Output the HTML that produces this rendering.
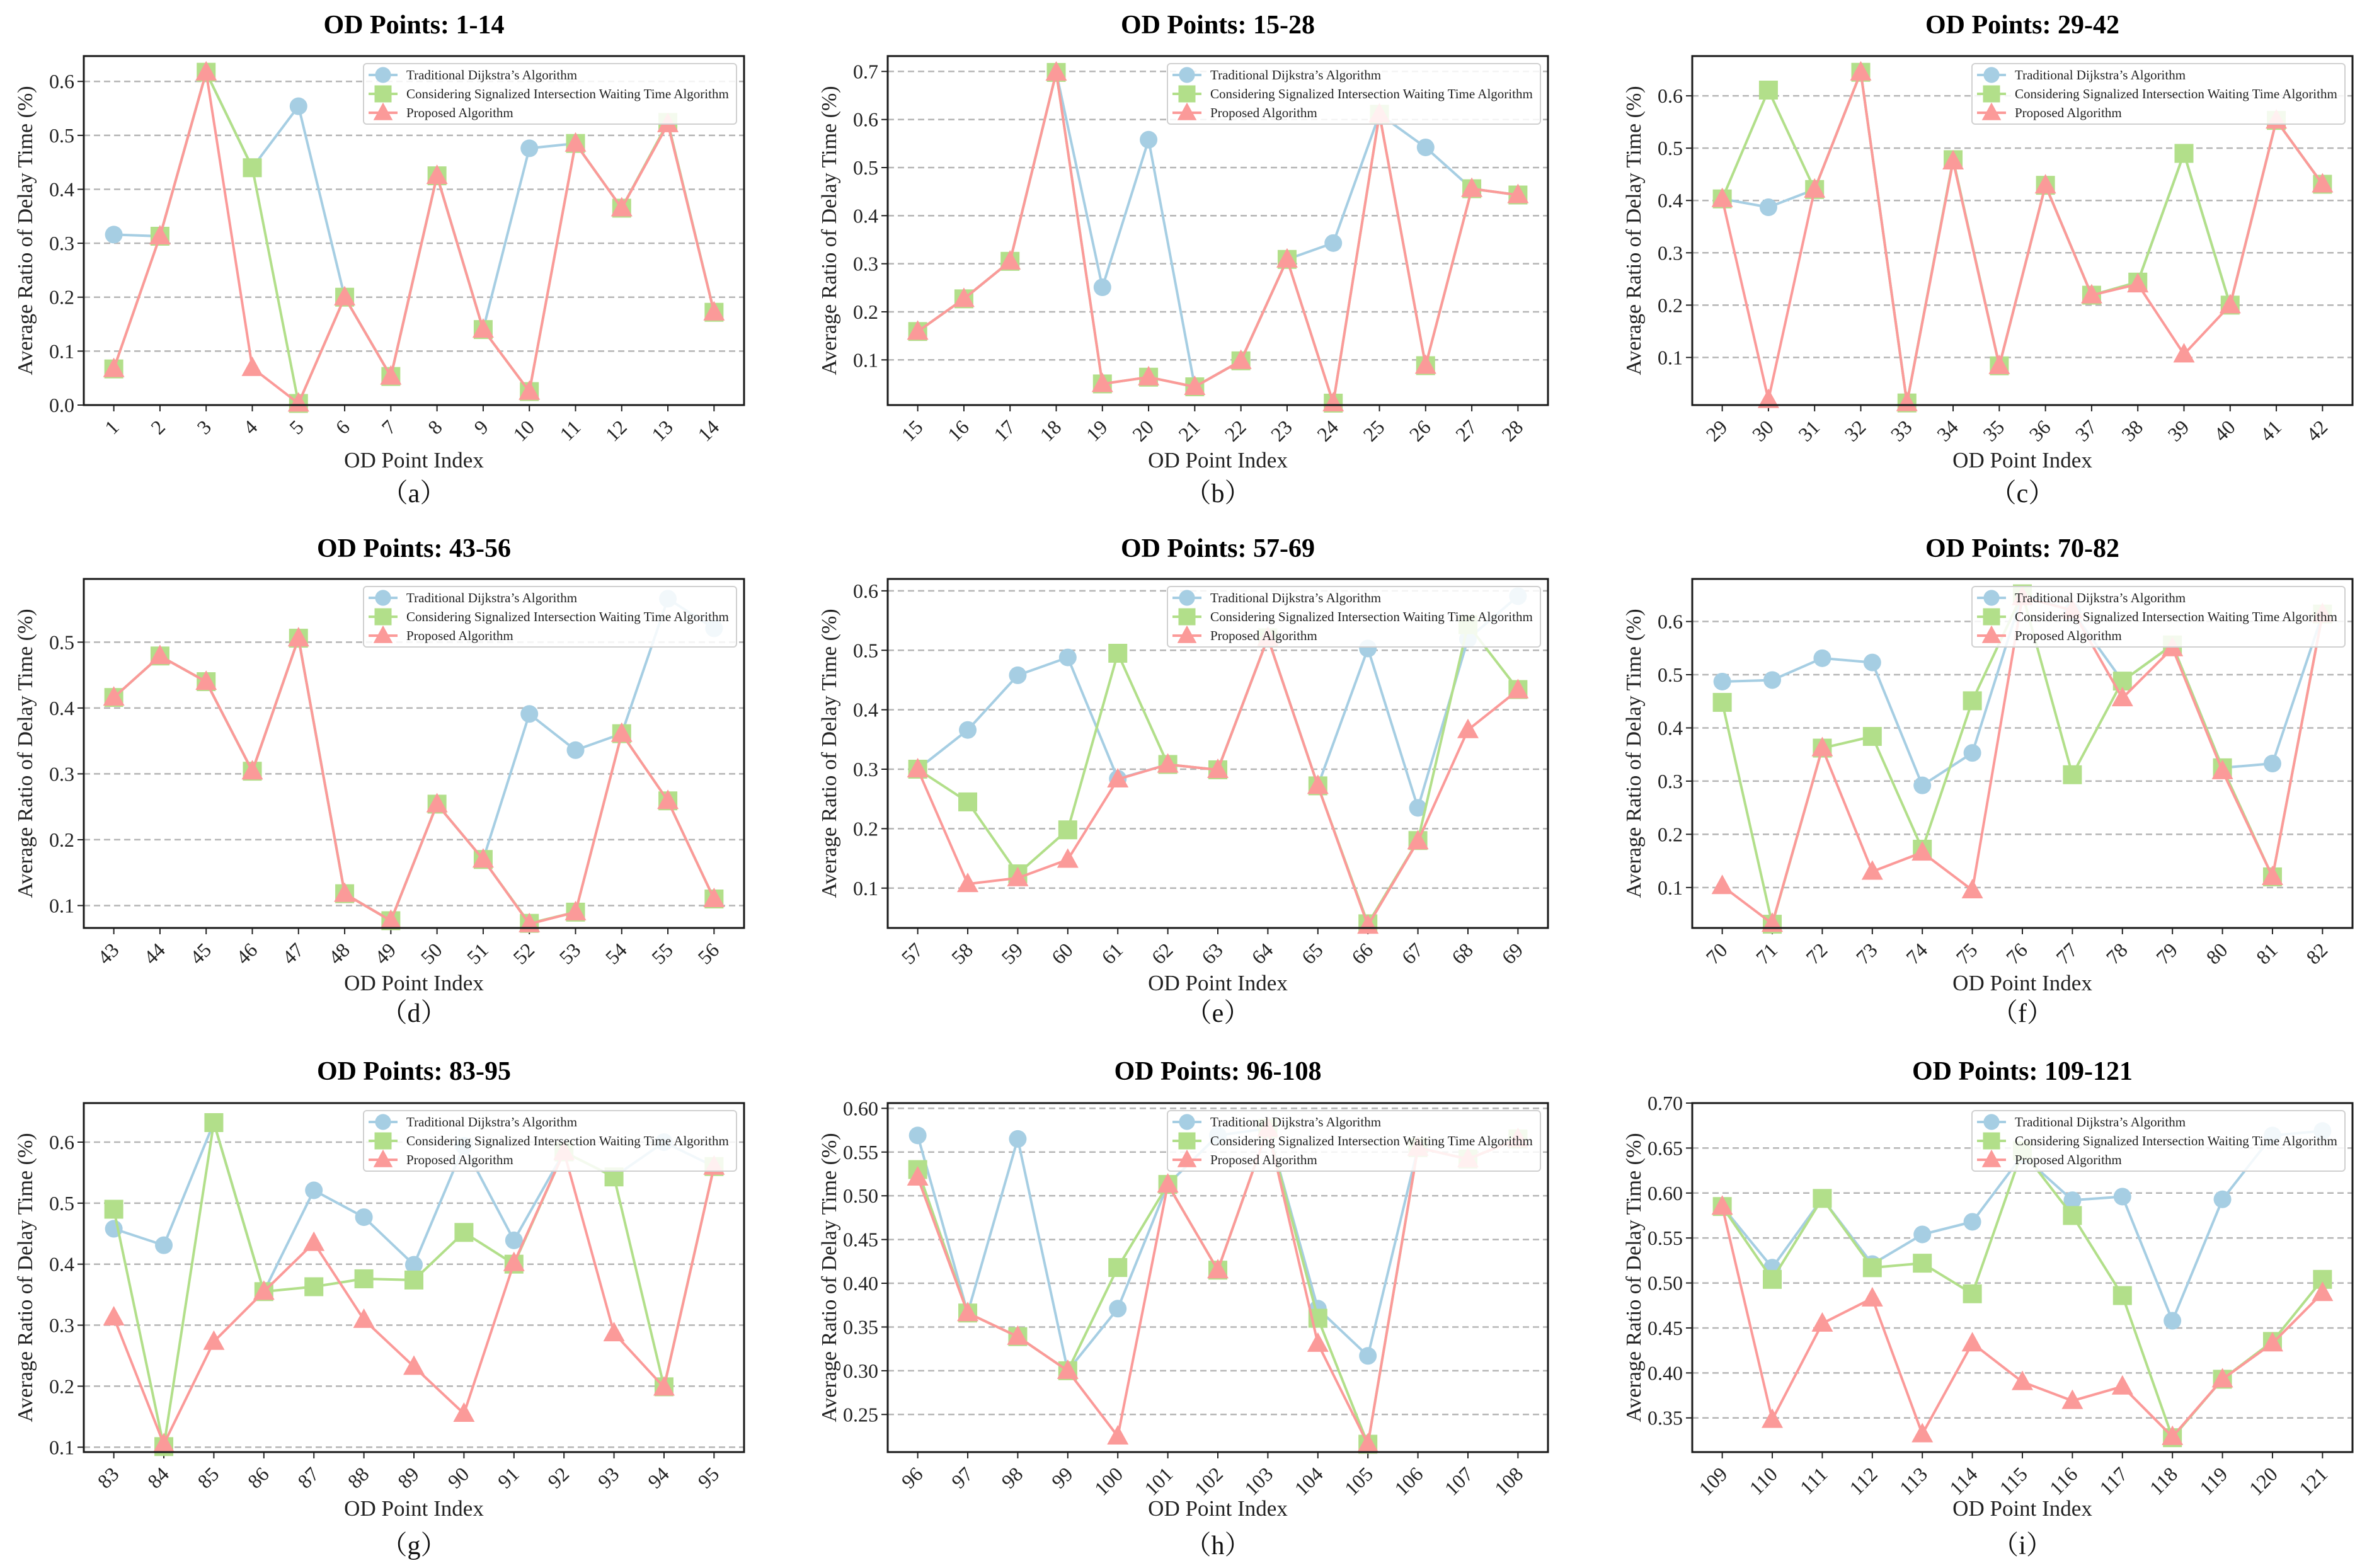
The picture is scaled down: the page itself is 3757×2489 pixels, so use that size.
<!DOCTYPE html>
<html><head><meta charset="utf-8"><style>
html,body{margin:0;padding:0;background:#fff;}
svg{display:block;font-family:"Liberation Serif","Noto Serif CJK SC",serif;}
</style></head><body>
<svg id="fig" xmlns="http://www.w3.org/2000/svg" width="3757" height="2489" viewBox="0 0 3757 2489"></svg>
<script>
// ---- data ----
const seriesNames = ["Traditional Dijkstra’s Algorithm","Considering Signalized Intersection Waiting Time Algorithm","Proposed Algorithm"];
const panelTitles = ["OD Points: 1-14","OD Points: 15-28","OD Points: 29-42","OD Points: 43-56","OD Points: 57-69","OD Points: 70-82","OD Points: 83-95","OD Points: 96-108","OD Points: 109-121"];
const panelLetters = ["a","b","c","d","e","f","g","h","i"];
const startIdx = [1,15,29,43,57,70,83,96,109];

const tradA = [0.316,0.313,0.617,0.44,0.554,0.2,0.053,0.425,0.14,0.476,0.485,0.365,0.524,0.172];
const consA = [0.067,0.313,0.617,0.44,0.003,0.2,0.053,0.425,0.14,0.025,0.485,0.365,0.524,0.172];
const propA = [0.067,0.313,0.617,0.069,0.003,0.2,0.053,0.425,0.14,0.025,0.485,0.365,0.521,0.172];

const tradB = [0.159,0.227,0.305,0.698,0.251,0.558,0.044,0.098,0.309,0.343,0.611,0.542,0.456,0.443];
const consB = [0.159,0.227,0.305,0.698,0.050,0.064,0.044,0.098,0.309,0.010,0.611,0.088,0.456,0.443];
const propB = [0.159,0.227,0.305,0.698,0.050,0.064,0.044,0.098,0.309,0.010,0.611,0.088,0.456,0.443];

const tradC = [0.403,0.387,0.421,0.645,0.013,0.478,0.084,0.429,0.219,0.244,0.49,0.2,0.553,0.431];
const consC = [0.403,0.611,0.421,0.645,0.013,0.478,0.084,0.429,0.219,0.244,0.49,0.2,0.553,0.431];
const propC = [0.403,0.019,0.421,0.645,0.013,0.475,0.084,0.429,0.219,0.240,0.106,0.2,0.553,0.431];

const tradD = [0.416,0.479,0.44,0.304,0.506,0.118,0.077,0.254,0.17,0.391,0.336,0.361,0.566,0.521];
const consD = [0.416,0.479,0.44,0.304,0.506,0.118,0.077,0.254,0.17,0.073,0.09,0.361,0.259,0.11];
const propD = [0.416,0.479,0.44,0.304,0.506,0.118,0.077,0.254,0.17,0.072,0.09,0.361,0.259,0.11];

const tradE = [0.3,0.366,0.458,0.488,0.284,0.308,0.299,0.521,0.272,0.503,0.235,0.519,0.591];
const consE = [0.3,0.245,0.124,0.198,0.495,0.308,0.299,0.521,0.272,0.04,0.18,0.543,0.434];
const propE = [0.3,0.107,0.117,0.148,0.283,0.308,0.299,0.521,0.272,0.037,0.179,0.366,0.433];

const tradF = [0.487,0.49,0.531,0.523,0.292,0.353,0.652,0.619,0.488,0.556,0.325,0.333,0.614];
const consF = [0.448,0.031,0.362,0.384,0.172,0.451,0.652,0.312,0.488,0.556,0.325,0.12,0.614];
const propF = [0.103,0.032,0.362,0.13,0.166,0.095,0.646,0.621,0.456,0.55,0.319,0.12,0.614];

const tradG = [0.458,0.431,0.632,0.355,0.521,0.477,0.399,0.594,0.439,0.584,0.543,0.6,0.56];
const consG = [0.49,0.101,0.632,0.355,0.363,0.376,0.374,0.452,0.4,0.584,0.543,0.199,0.56];
const propG = [0.313,0.105,0.273,0.355,0.435,0.309,0.232,0.155,0.402,0.584,0.287,0.198,0.56];

const tradH = [0.569,0.366,0.565,0.3,0.371,0.513,0.569,0.577,0.371,0.317,0.555,0.542,0.565];
const consH = [0.53,0.366,0.339,0.3,0.418,0.513,0.415,0.577,0.36,0.216,0.555,0.542,0.565];
const propH = [0.521,0.366,0.339,0.3,0.225,0.513,0.415,0.577,0.331,0.216,0.555,0.542,0.565];

const tradI = [0.585,0.517,0.594,0.521,0.554,0.568,0.642,0.592,0.596,0.458,0.593,0.664,0.669];
const consI = [0.585,0.504,0.594,0.517,0.522,0.488,0.647,0.575,0.486,0.328,0.393,0.435,0.504];
const propI = [0.585,0.348,0.455,0.483,0.332,0.433,0.39,0.369,0.385,0.329,0.393,0.433,0.489];

const yTicksA = [0.0,0.1,0.2,0.3,0.4,0.5,0.6];
const yTicksB = [0.1,0.2,0.3,0.4,0.5,0.6,0.7];
const yTicksC = [0.1,0.2,0.3,0.4,0.5,0.6];
const yTicksD = [0.1,0.2,0.3,0.4,0.5];
const yTicksE = [0.1,0.2,0.3,0.4,0.5,0.6];
const yTicksF = [0.1,0.2,0.3,0.4,0.5,0.6];
const yTicksG = [0.1,0.2,0.3,0.4,0.5,0.6];
const yTicksH = [0.25,0.30,0.35,0.40,0.45,0.50,0.55,0.60];
const yTicksI = [0.35,0.40,0.45,0.50,0.55,0.60,0.65,0.70];

const yMins = [0,0.006,0.009,0.066,0.033,0.024,0.092,0.207,0.312];
const yMaxs = [0.647,0.732,0.676,0.596,0.62,0.68,0.664,0.606,0.70];
const tickDecimals = [1,1,1,1,1,1,1,2,2];

const allTrad = [tradA,tradB,tradC,tradD,tradE,tradF,tradG,tradH,tradI];
const allCons = [consA,consB,consC,consD,consE,consF,consG,consH,consI];
const allProp = [propA,propB,propC,propD,propE,propF,propG,propH,propI];
const allTicks = [yTicksA,yTicksB,yTicksC,yTicksD,yTicksE,yTicksF,yTicksG,yTicksH,yTicksI];

// ---- layout ----
const NS = "http://www.w3.org/2000/svg";
const svg = document.getElementById('fig');
const colLeft = [133,1409,2686];
const rowTop = [89,919,1751];
const PW = 1048, PH = 554;
const titleY = [53,884,1714];
const xlabY = [742,1572,2406];
const letterY = [797,1622,2467];
const colors = ["#a6cee3","#b2df8a","#fb9a99"];

function mk(tag, attrs, parent){
  const e = document.createElementNS(NS, tag);
  for (const k in attrs) e.setAttribute(k, attrs[k]);
  (parent||svg).appendChild(e);
  return e;
}
function marker(g, kind, x, y, color, sc){
  sc = sc||1;
  let m;
  if (kind===0){ m = mk('circle',{cx:x,cy:y,r:14*sc,fill:color},g); }
  else if (kind===1){ m = mk('rect',{x:x-15*sc,y:y-15*sc,width:30*sc,height:30*sc,fill:color},g); }
  else { m = mk('polygon',{points:`${x},${y-18*sc} ${x-17*sc},${y+13*sc} ${x+17*sc},${y+13*sc}`,fill:color},g); }
  return m;
}

for (let p=0;p<9;p++){
  const L = colLeft[p%3], T = rowTop[Math.floor(p/3)], r = Math.floor(p/3);
  const R = L+PW, B = T+PH;
  const n = allTrad[p].length;
  const xmin = -0.05*(n-1), xmax = (n-1)*1.05;
  const xs = i => L + (i - xmin)/(xmax-xmin)*PW;
  const ys = v => B - (v - yMins[p])/(yMaxs[p]-yMins[p])*PH;

  const g = mk('g',{});
  
  

  const title = mk('text',{x:(L+R)/2,y:titleY[r],'text-anchor':'middle','font-size':42,'font-weight':'bold'},g);
  title.textContent = panelTitles[p];
  
  

  mk('rect',{x:L,y:T,width:PW,height:PH,fill:'#fff'},g);

  const yt = allTicks[p];
  for (const v of yt){
    const y = ys(v);
    const gl = mk('line',{x1:L,x2:R,y1:y,y2:y,stroke:'#b5b5b5','stroke-width':2.5,'stroke-dasharray':'10,6'},g);
    
    
    mk('line',{x1:L-10,x2:L,y1:y,y2:y,stroke:'#222','stroke-width':2},g);
    const tl = mk('text',{x:L-15,y:y+11,'text-anchor':'end','font-size':32,fill:'#222'},g);
    tl.textContent = v.toFixed(tickDecimals[p]);
    
    
  }
  for (let i=0;i<n;i++){
    const x = xs(i);
    mk('line',{x1:x,x2:x,y1:B,y2:B+10,stroke:'#222','stroke-width':2},g);
    const xl = mk('text',{transform:`translate(${x+10},${B+37}) rotate(-45)`,'text-anchor':'end','font-size':32,fill:'#222'},g);
    xl.textContent = String(startIdx[p]+i);
    
    
  }

  const sets = [allTrad[p],allCons[p],allProp[p]];
  const snames = ['traditional-dijkstra-series','signalized-waiting-series','proposed-algorithm-series'];
  for (let s=0;s<3;s++){
    const sg = mk('g',{},g);
    
    
    const pts = sets[s].map((v,i)=>`${xs(i).toFixed(1)},${ys(v).toFixed(1)}`).join(' ');
    mk('polyline',{points:pts,fill:'none',stroke:colors[s],'stroke-width':4,'stroke-linejoin':'round'},sg);
    sets[s].forEach((v,i)=>{
      const m = marker(sg, s, xs(i), ys(v), colors[s]);
      
      
    });
  }

  mk('rect',{x:L,y:T,width:PW,height:PH,fill:'none',stroke:'#1a1a1a','stroke-width':3},g);

  const lw = 592, lh = 96, lx = R-12-lw, ly = T+12;
  const lg = mk('g',{},g);
  
  
  mk('rect',{x:lx,y:ly,width:lw,height:lh,rx:5,fill:'#fff','fill-opacity':0.85,stroke:'#d0d0d0','stroke-width':2},lg);
  for (let s=0;s<3;s++){
    const cy = ly+18+s*30;
    const le = mk('g',{},lg);
    
    
    mk('line',{x1:lx+8,x2:lx+54,y1:cy,y2:cy,stroke:colors[s],'stroke-width':4},le);
    marker(le, s, lx+31, cy, colors[s], 0.9);
    const t = mk('text',{x:lx+68,y:cy+7,'font-size':21,fill:'#222'},le);
    t.textContent = seriesNames[s];
  }

  const yl = mk('text',{transform:`translate(${L-82},${(T+B)/2}) rotate(-90)`,'text-anchor':'middle','font-size':34,fill:'#222'},g);
  yl.textContent = 'Average Ratio of Delay Time (%)';
  
  
  const xlab = mk('text',{x:(L+R)/2,y:xlabY[r],'text-anchor':'middle','font-size':35,fill:'#222'},g);
  xlab.textContent = 'OD Point Index';
  
  
  const cap = mk('text',{x:(L+R)/2,y:letterY[r],'text-anchor':'middle','font-size':42,fill:'#111'},g);
  cap.textContent = '（'+panelLetters[p]+'）';
  
  
}
</script>
</body></html>
